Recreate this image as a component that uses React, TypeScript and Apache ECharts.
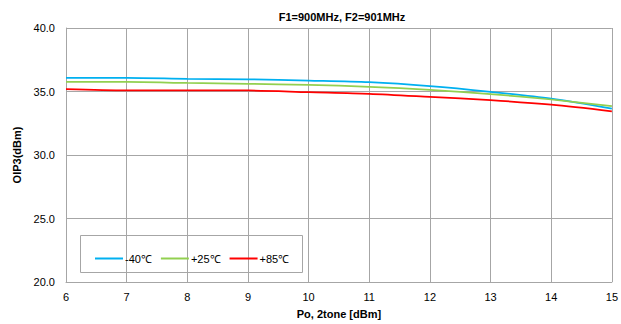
import React, { useEffect, useRef } from "react";
import * as echarts from "echarts";

// Output power (dBm), two-tone
const poDbm = [6, 7, 8, 9, 10, 11, 12, 13, 14, 15];

// OIP3 (dBm) per temperature
const oip3Cold = [36.07, 36.07, 36.0, 35.96, 35.86, 35.73, 35.42, 34.97, 34.43, 33.65];
const oip3Room = [35.75, 35.75, 35.67, 35.6, 35.52, 35.37, 35.13, 34.8, 34.37, 33.85];
const oip3Hot = [35.18, 35.08, 35.08, 35.08, 34.95, 34.82, 34.58, 34.32, 33.96, 33.44];

const seriesNames = ["-40℃", "+25℃", "+85℃"];
const seriesColors = ["#00B0F0", "#92D050", "#FF0000"];

const FONT = "'Liberation Sans', Arial, sans-serif";

export default function App() {
  const ref = useRef<HTMLDivElement>(null);

  useEffect(() => {
    if (!ref.current) return;
    const chart = echarts.init(ref.current, null, { renderer: "svg" });
    const values = [oip3Cold, oip3Room, oip3Hot];
    chart.setOption({
      animation: false,
      backgroundColor: "#ffffff",
      title: {
        text: "F1=900MHz, F2=901MHz",
        left: 337,
        textAlign: "center",
        top: 6,
        textStyle: { fontFamily: FONT, fontSize: 11, fontWeight: "bold", color: "#000" },
      },
      grid: { left: 66, right: 7, top: 28, bottom: 40 },
      xAxis: {
        type: "value",
        min: 6,
        max: 15,
        interval: 1,
        name: "Po, 2tone [dBm]",
        nameLocation: "middle",
        nameGap: 26,
        nameTextStyle: { fontFamily: FONT, fontSize: 11, fontWeight: "bold", color: "#000" },
        axisLine: { lineStyle: { color: "#A6A6A6" } },
        axisTick: { show: false },
        axisLabel: { fontFamily: FONT, fontSize: 11, color: "#000", margin: 9 },
        splitLine: { show: true, lineStyle: { color: "#A6A6A6", width: 1 } },
      },
      yAxis: {
        type: "value",
        min: 20,
        max: 40,
        interval: 5,
        name: "OIP3(dBm)",
        nameLocation: "middle",
        nameGap: 44,
        nameTextStyle: { fontFamily: FONT, fontSize: 11, fontWeight: "bold", color: "#000" },
        axisLine: { show: true, lineStyle: { color: "#A6A6A6" } },
        axisTick: { show: false },
        axisLabel: {
          fontFamily: FONT,
          fontSize: 11,
          color: "#000",
          margin: 11,
          formatter: (v: number) => v.toFixed(1),
        },
        splitLine: { show: true, lineStyle: { color: "#A6A6A6", width: 1 } },
      },
      legend: {
        left: 90,
        top: 248,
        icon: "rect",
        itemWidth: 28,
        itemHeight: 2,
        itemGap: 9,
        textStyle: { fontFamily: FONT, fontSize: 11, color: "#000", padding: [0, 0, 0, -3] },
        data: seriesNames,
      },
      graphic: [
        {
          type: "rect",
          shape: { x: 80.5, y: 235.5, width: 222, height: 37 },
          style: { fill: "#fff", stroke: "#A6A6A6", lineWidth: 1 },
          z: 0,
          silent: true,
        },
      ],
      series: seriesNames.map((name, i) => ({
        name,
        type: "line",
        smooth: 0.3,
        showSymbol: false,
        symbol: "none",
        data: poDbm.map((x, j) => [x, values[i][j]]),
        lineStyle: { color: seriesColors[i], width: 1.75 },
        itemStyle: { color: seriesColors[i] },
        z: 3,
      })),
    });
    return () => chart.dispose();
  }, []);

  return (
    <div
      ref={ref}
      style={{ position: "fixed", left: 0, top: 0, width: 621, height: 324 }}
    />
  );
}
